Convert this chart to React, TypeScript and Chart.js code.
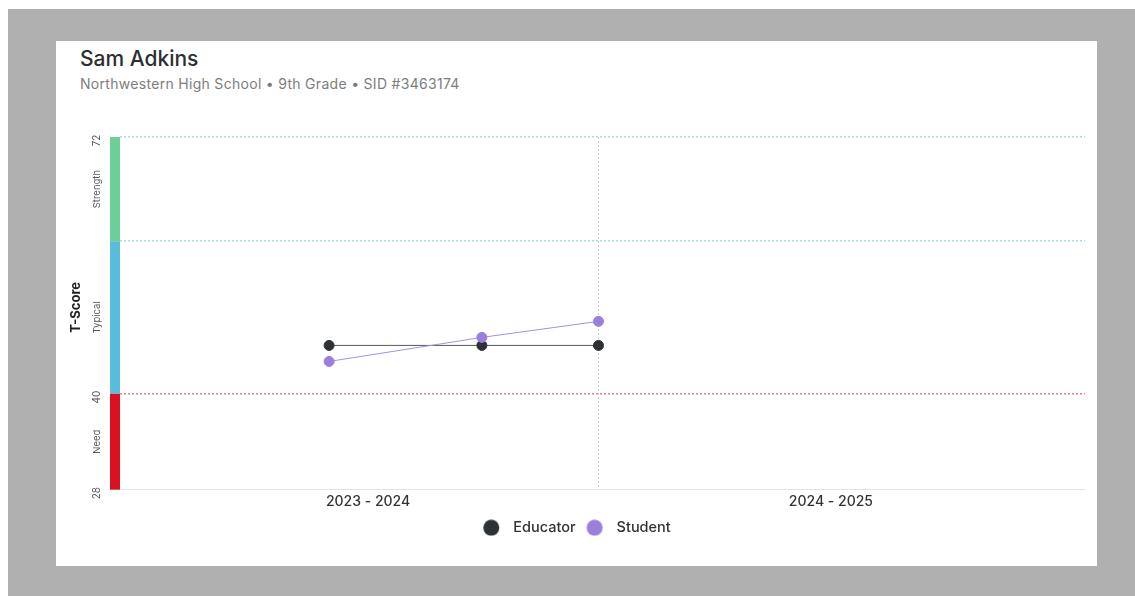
import React, { useEffect, useRef } from "react";
import { Chart, registerables } from "chart.js";

Chart.register(...registerables);

// ---- data ----
const studentName = "Sam Adkins";
const studentInfo = "Northwestern High School • 9th Grade • SID #3463174";
const seriesNames = ["Educator", "Student"];
const pointMonths = [5.2, 9.0, 11.9]; // months since July 2023
const educatorScores = [46, 46, 46];
const studentScores = [44, 47, 49];
const yearLabels = ["2023 - 2024", "2024 - 2025"];
const yearLabelMonths = [6.17, 17.68];
const yearBoundaryMonth = 11.9;
const xMin = 0;
const xMax = 24;
const yMin = 28;
const yMax = 72;
const yGridValues = [28, 40, 59, 72];
const yLabeledValues = [72, 40, 28];
const bandNames = ["Need", "Typical", "Strength"];
const bandFrom = [28, 40, 59];
const bandTo = [40, 59, 72];

// ---- styles ----
const FONT = "Inter, 'Open Sans', sans-serif";
const seriesColors = ["#2d3135", "#9b7fdc"];
const lineColors = ["#555a5e", "#a58ee2"];
const bandColors = ["#d8111f", "#5bbbdb", "#6dcf98"];

function makeDot(color: string): HTMLCanvasElement {
  const c = document.createElement("canvas");
  c.width = 30;
  c.height = 17;
  const g = c.getContext("2d")!;
  g.fillStyle = color;
  g.beginPath();
  g.arc(15 - 0.875, 8.5, 8, 0, Math.PI * 2);
  g.fill();
  return c;
}

const leftPanel = {
  id: "leftPanel",
  afterDraw(chart: any) {
    const { ctx, chartArea, scales } = chart;
    const y = scales.y;
    const left = chartArea.left;
    ctx.save();
    bandNames.forEach((name, i) => {
      const top = y.getPixelForValue(bandTo[i]);
      const bot = y.getPixelForValue(bandFrom[i]);
      ctx.fillStyle = bandColors[i];
      ctx.fillRect(left - 10, top, 10, bot - top);
      ctx.save();
      ctx.translate(left - 23, (top + bot) / 2);
      ctx.rotate(-Math.PI / 2);
      ctx.textAlign = "center";
      ctx.textBaseline = "middle";
      ctx.font = `400 9.5px ${FONT}`;
      ctx.fillStyle = "#555";
      ctx.fillText(name, 0, 0);
      ctx.restore();
    });
    yLabeledValues.forEach((v) => {
      const py = y.getPixelForValue(v);
      ctx.save();
      ctx.translate(left - 23, py);
      ctx.rotate(-Math.PI / 2);
      ctx.textAlign = "center";
      ctx.textBaseline = "middle";
      ctx.font = `400 10px ${FONT}`;
      ctx.fillStyle = "#555";
      ctx.fillText(String(v), -3.5, 0);
      ctx.restore();
    });
    ctx.save();
    ctx.translate(left - 44, (chartArea.top + chartArea.bottom) / 2 - 6);
    ctx.rotate(-Math.PI / 2);
    ctx.textAlign = "center";
    ctx.textBaseline = "middle";
    ctx.font = `700 13px ${FONT}`;
    ctx.fillStyle = "#222";
    ctx.fillText("T-Score", 0, 0);
    ctx.restore();
    ctx.restore();
  },
};

export default function App() {
  const ref = useRef<HTMLCanvasElement | null>(null);

  useEffect(() => {
    if (!ref.current) return;
    const xTicks = [...yearLabelMonths, yearBoundaryMonth].sort((a, b) => a - b);
    const chart = new Chart(ref.current, {
      type: "line",
      data: {
        datasets: [
          {
            label: seriesNames[0],
            data: pointMonths.map((m, i) => ({ x: m, y: educatorScores[i] })),
            borderColor: lineColors[0],
            backgroundColor: seriesColors[0],
            pointBackgroundColor: seriesColors[0],
            pointBorderColor: seriesColors[0],
            borderWidth: 1,
            pointRadius: 5,
            pointBorderWidth: 1,
            order: 1,
          },
          {
            label: seriesNames[1],
            data: pointMonths.map((m, i) => ({ x: m, y: studentScores[i] })),
            borderColor: lineColors[1],
            backgroundColor: seriesColors[1],
            pointBackgroundColor: seriesColors[1],
            pointBorderColor: seriesColors[1],
            borderWidth: 1,
            pointRadius: 5,
            pointBorderWidth: 1,
            order: 0,
          },
        ],
      },
      options: {
        animation: false,
        responsive: false,
        layout: { padding: { left: 8, right: 12, top: 37, bottom: 21 } },
        scales: {
          x: {
            type: "linear",
            min: xMin,
            max: xMax,
            afterBuildTicks: (s: any) => {
              s.ticks = xTicks.map((v) => ({ value: v }));
            },
            ticks: {
              autoSkip: false,
              maxRotation: 0,
              padding: 4,
              color: "#333",
              font: { family: FONT, size: 14, weight: "500" },
              callback: (v: any) => {
                const idx = yearLabelMonths.indexOf(Number(v));
                return idx >= 0 ? yearLabels[idx] : "";
              },
            },
            grid: {
              drawTicks: false,
              lineWidth: 1,
              color: (c: any) =>
                c.tick && c.tick.value === yearBoundaryMonth ? "#c9d0d6" : "rgba(0,0,0,0)",
            },
            border: { display: true, color: "#dfe4e7", width: 1, dash: [2, 2] },
          },
          y: {
            type: "linear",
            min: yMin,
            max: yMax,
            afterBuildTicks: (s: any) => {
              s.ticks = yGridValues.map((v) => ({ value: v }));
            },
            afterFit: (s: any) => {
              s.width = 56;
            },
            ticks: { display: false },
            grid: {
              drawTicks: false,
              lineWidth: 1.5,
              color: (c: any) => {
                const v = c.tick ? c.tick.value : null;
                if (v === 72 || v === 59) return "#a3dee2";
                if (v === 40) return "#ee7f8c";
                return "rgba(0,0,0,0)";
              },
            },
            border: { display: false, dash: [2, 2] },
          },
        },
        plugins: {
          tooltip: { enabled: false },
          legend: {
            position: "bottom",
            labels: {
              usePointStyle: true,
              pointStyleWidth: 27.75,
              boxHeight: 14.5,
              padding: 6,
              color: "#333",
              font: { family: FONT, size: 14.5, weight: "500" },
              sort: (a: any, b: any) => a.datasetIndex - b.datasetIndex,
              generateLabels: (ch: any) => {
                const items = (Chart.defaults.plugins.legend.labels as any).generateLabels(ch);
                items.forEach((it: any) => {
                  it.pointStyle = makeDot(seriesColors[it.datasetIndex]);
                });
                return items;
              },
            },
          },
        },
      },
      plugins: [leftPanel],
    } as any);
    return () => chart.destroy();
  }, []);

  return (
    <div>
      <div
        style={{
          position: "fixed",
          left: 8,
          top: 9,
          width: 1127,
          height: 587,
          background: "#b0b0b0",
        }}
      />
      <div
        style={{
          position: "fixed",
          left: 56,
          top: 41,
          width: 1041,
          height: 525,
          background: "#ffffff",
        }}
      >
        <div
          style={{
            position: "absolute",
            left: 24,
            top: 5,
            fontFamily: FONT,
            fontSize: 21,
            fontWeight: 500,
            color: "#2b2f33",
            whiteSpace: "nowrap",
          }}
        >
          {studentName}
        </div>
        <div
          style={{
            position: "absolute",
            left: 24,
            top: 34,
            fontFamily: FONT,
            fontSize: 14,
            letterSpacing: 0.3,
            fontWeight: 400,
            color: "#7d7d7d",
            whiteSpace: "nowrap",
          }}
        >
          {studentInfo}
        </div>
        <div style={{ position: "absolute", left: 0, top: 59, width: 1041, height: 466 }}>
          <canvas ref={ref} width={1041} height={466} style={{ display: "block" }} />
        </div>
      </div>
    </div>
  );
}
